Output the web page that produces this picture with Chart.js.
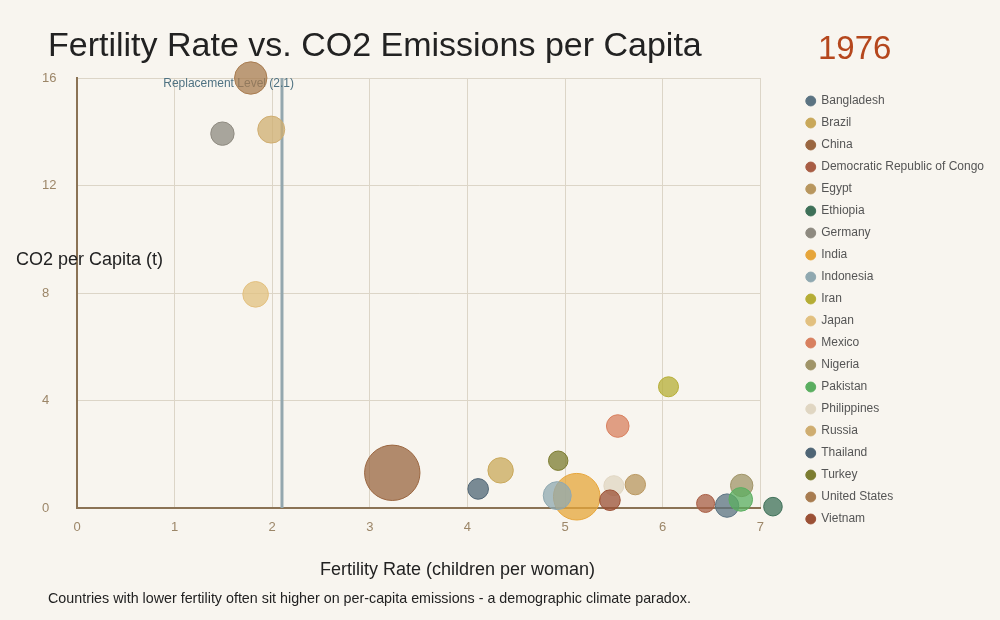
<!DOCTYPE html>
<html>
<head>
<meta charset="utf-8">
<script src="https://cdn.jsdelivr.net/npm/chart.js@4/dist/chart.umd.min.js"></script>
<style>
    html, body { margin: 0; padding: 0; background: #f8f5ef; }
    body { width: 1000px; height: 620px; position: relative; overflow: hidden; font-family: "Liberation Sans", Arial, sans-serif; }
    #wrap { position: absolute; left: 0; top: 0; width: 1000px; height: 620px; }
    .txt { position: absolute; line-height: 1; white-space: nowrap; }
    #title { left: 48px; top: 27px; font-size: 34px; color: #222; }
    #year { left: 818px; top: 31px; font-size: 33px; color: #b5471d; }
    #ytitle { left: 16px; top: 250px; font-size: 18px; color: #222; }
    #xtitle { left: 320px; top: 560px; font-size: 18px; color: #222; }
    #note { left: 48px; top: 591px; font-size: 14.3px; color: #222; }
</style>
</head>
<body>
<div id="wrap"><canvas id="chart" width="1000" height="620"></canvas></div>
<div class="txt" id="title">Fertility Rate vs. CO2 Emissions per Capita</div>
<div class="txt" id="year">1976</div>
<div class="txt" id="ytitle">CO2 per Capita (t)</div>
<div class="txt" id="xtitle">Fertility Rate (children per woman)</div>
<div class="txt" id="note">Countries with lower fertility often sit higher on per-capita emissions - a demographic climate paradox.</div>
<script>
    /* 1976 snapshot, values */
    const countries = ['Bangladesh', 'Brazil', 'China', 'Democratic Republic of Congo', 'Egypt', 'Ethiopia', 'Germany', 'India', 'Indonesia', 'Iran',
        'Japan', 'Mexico', 'Nigeria', 'Pakistan', 'Philippines', 'Russia', 'Thailand', 'Turkey', 'United States', 'Vietnam'];
    const fertility = [6.66, 4.34, 3.23, 6.44, 5.72, 7.13, 1.49, 5.12, 4.92, 6.06,
        1.83, 5.54, 6.81, 6.80, 5.50, 1.99, 4.11, 4.93, 1.78, 5.46];
    const co2 = [0.09, 1.40, 1.31, 0.17, 0.87, 0.05, 13.93, 0.42, 0.46, 4.51,
        7.95, 3.05, 0.84, 0.32, 0.83, 14.08, 0.71, 1.76, 16.0, 0.29];
    // bubble radius in px (population driven)
    const radius = [11.7, 12.7, 27.7, 9, 10.2, 9.3, 11.7, 23.3, 14, 10,
        12.8, 11.3, 11.2, 11.8, 10, 13.5, 10.3, 9.7, 16.2, 10.3];
    const colors = ['#5b7382', '#c9a85a', '#9a6640', '#a85d44', '#b8965e', '#3e7058', '#8e8a80', '#e6a53a', '#8fa8b0', '#b5ad35',
        '#e2c07f', '#d8805f', '#a09468', '#5aae60', '#e0d6c2', '#cfad70', '#4f6575', '#7c7c30', '#a87c50', '#9b5035'];
    const xTicks = [0, 1, 2, 3, 4, 5, 6, 7];
    const yTicks = [0, 4, 8, 12, 16];
    const replacementLevel = 2.1;

    const hexA = (hex, a) => {
        const n = parseInt(hex.slice(1), 16);
        return `rgba(${n >> 16},${(n >> 8) & 255},${n & 255},${a})`;
    };

    // replacement fertility line + let bubbles spill past the plot edge
    let savedArea = null;
    const replacementLine = {
        id: 'replacementLine',
        beforeDatasetsDraw(chart) {
            const { ctx, chartArea, scales } = chart;
            const x = scales.x.getPixelForValue(replacementLevel);
            ctx.save();
            ctx.strokeStyle = '#94a7ae';
            ctx.lineWidth = 3;
            ctx.beginPath();
            ctx.moveTo(x, chartArea.top);
            ctx.lineTo(x, chartArea.bottom);
            ctx.stroke();
            ctx.fillStyle = '#4f7282';
            ctx.font = '12px "Liberation Sans", Arial, sans-serif';
            ctx.textAlign = 'right';
            ctx.textBaseline = 'alphabetic';
            ctx.fillText('Replacement Level (' + replacementLevel + ')', x + 12, chartArea.top + 9);
            ctx.restore();
            // points just outside the area would otherwise be skipped
            savedArea = chart.chartArea;
            chart.chartArea = {
                left: savedArea.left - 60, right: savedArea.right + 60,
                top: savedArea.top - 60, bottom: savedArea.bottom + 60,
                width: savedArea.width + 120, height: savedArea.height + 120,
            };
        },
        afterDatasetsDraw(chart) {
            if (savedArea) chart.chartArea = savedArea;
            savedArea = null;
        },
    };

    const tickColor = '#9c8668';
    const gridColor = '#dcd5c7';
    const axisColor = '#8b7355';

    new Chart(document.getElementById('chart'), {
        type: 'bubble',
        data: {
            datasets: countries.map((name, i) => ({
                label: name,
                data: [{ x: fertility[i], y: co2[i], r: radius[i] }],
                backgroundColor: hexA(colors[i], 0.75),
                borderColor: colors[i],
                borderWidth: 1,
                hoverRadius: 0,
                clip: false,
                order: countries.length - i,
            })),
        },
        options: {
            responsive: false,
            animation: false,
            layout: {
                padding: { left: 42, top: 78, right: 6, bottom: 78 },
            },
            scales: {
                x: {
                    type: 'linear',
                    min: xTicks[0],
                    max: xTicks[xTicks.length - 1],
                    afterBuildTicks: (s) => { s.ticks = xTicks.map((v) => ({ value: v })); },
                    afterFit: (s) => { s.height = 34; },
                    border: { color: axisColor, width: 2 },
                    grid: { color: gridColor, drawTicks: false },
                    ticks: {
                        color: tickColor,
                        padding: 12,
                        font: { size: 13, family: '"Liberation Sans", Arial, sans-serif' },
                    },
                },
                y: {
                    type: 'linear',
                    min: yTicks[0],
                    max: yTicks[yTicks.length - 1],
                    afterBuildTicks: (s) => { s.ticks = yTicks.map((v) => ({ value: v })); },
                    afterFit: (s) => { s.width = 35; },
                    border: { color: axisColor, width: 2 },
                    grid: { color: gridColor, drawTicks: false },
                    ticks: {
                        color: tickColor,
                        crossAlign: 'far',
                        font: { size: 13, family: '"Liberation Sans", Arial, sans-serif' },
                    },
                },
                // empty spacer between plot and legend
                gap: {
                    type: 'linear',
                    position: 'right',
                    afterFit: (s) => { s.width = 36; },
                    border: { display: false },
                    grid: { display: false },
                    ticks: { display: false },
                },
            },
            plugins: {
                tooltip: { enabled: false },
                legend: {
                    position: 'right',
                    align: 'center',
                    maxWidth: 300,
                    labels: {
                        usePointStyle: true,
                        pointStyle: 'circle',
                        boxWidth: 9,
                        boxHeight: 7,
                        padding: 10,
                        color: '#555555',
                        font: { size: 12, family: '"Liberation Sans", Arial, sans-serif' },
                        sort: (a, b) => a.datasetIndex - b.datasetIndex,
                        generateLabels: (chart) => {
                            const items = Chart.defaults.plugins.legend.labels.generateLabels(chart);
                            items.forEach((it) => {
                                it.fillStyle = colors[it.datasetIndex];
                                it.strokeStyle = colors[it.datasetIndex];
                            });
                            return items;
                        },
                    },
                },
            },
        },
        plugins: [replacementLine],
    });
</script>
</body>
</html>
